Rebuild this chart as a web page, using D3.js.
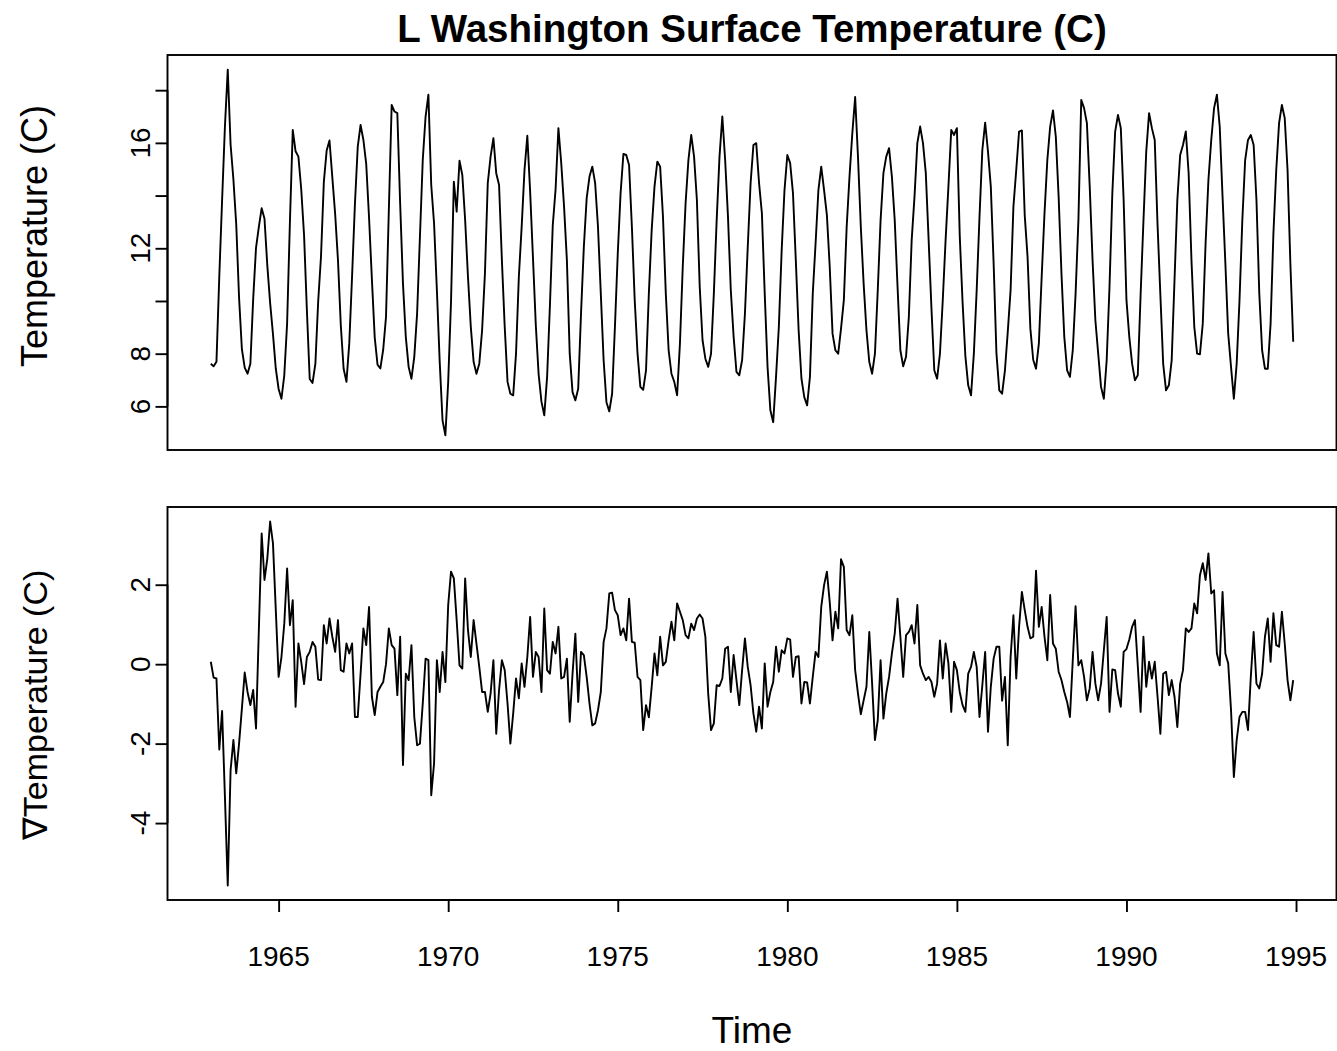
<!DOCTYPE html>
<html>
<head>
<meta charset="utf-8">
<script src="https://cdn.jsdelivr.net/npm/d3@7"></script>
<style>
  body { margin: 0; background: #fff; }
  svg { display: block; }
  text { font-family: "Liberation Sans", Arial, Helvetica, sans-serif; fill: #000; }
</style>
</head>
<body>
<svg id="chart" width="1337" height="1051"></svg>
<script>
// Monthly series, January 1963 – December 1994
const startYear = 1963;
const monthsPerYear = 12;

// Surface temperature (C), one row per year
const temperature = [
  7.62, 7.52, 7.69, 10.92, 13.83, 16.62, 18.78, 15.94, 14.61, 12.91, 10.13, 8.17,
  7.47, 7.24, 7.62, 10.08, 12.02, 12.81, 13.52, 13.12, 11.34, 9.92, 8.74, 7.43,
  6.66, 6.29, 7.18, 9.14, 13.02, 16.49, 15.68, 15.48, 14.24, 12.50, 9.65, 7.04,
  6.89, 7.61, 9.99, 11.70, 14.52, 15.71, 16.09, 14.69, 13.31, 11.55, 9.08, 7.43,
  6.93, 8.40, 10.97, 13.68, 15.86, 16.68, 16.11, 15.19, 13.15, 10.83, 8.62, 7.58,
  7.44, 8.15, 9.40, 13.45, 17.44, 17.19, 17.13, 13.71, 10.66, 8.64, 7.50, 7.05,
  7.88, 9.52, 12.44, 15.35, 17.00, 17.83, 14.40, 12.95, 10.41, 7.69, 5.47, 4.90,
  6.93, 9.97, 14.53, 13.39, 15.32, 14.78, 13.07, 10.92, 9.02, 7.69, 7.24, 7.62,
  8.89, 11.04, 14.47, 15.48, 16.18, 14.85, 14.40, 11.55, 9.02, 6.93, 6.48, 6.42,
  8.00, 10.92, 12.82, 14.97, 16.27, 14.14, 11.63, 9.08, 7.22, 6.18, 5.66, 7.12,
  9.84, 12.87, 14.24, 16.56, 15.23, 13.58, 11.55, 8.00, 6.54, 6.23, 6.67, 9.52,
  12.06, 13.90, 14.72, 15.10, 14.47, 12.82, 10.28, 7.75, 6.16, 5.81, 6.48, 9.02,
  11.80, 14.09, 15.58, 15.54, 15.16, 12.82, 10.03, 8.00, 6.74, 6.63, 7.37, 10.28,
  12.69, 14.34, 15.29, 15.10, 13.20, 10.28, 8.13, 7.24, 6.93, 6.42, 8.38, 11.30,
  13.71, 15.35, 16.30, 15.48, 13.83, 10.54, 8.51, 7.81, 7.50, 8.00, 10.28, 13.07,
  15.48, 17.00, 15.35, 13.20, 10.41, 8.64, 7.31, 7.18, 7.75, 9.52, 12.06, 14.47,
  15.92, 15.99, 14.47, 13.33, 10.28, 7.50, 5.85, 5.40, 7.12, 9.02, 11.93, 14.21,
  15.54, 15.23, 14.09, 11.55, 8.89, 7.05, 6.35, 6.04, 7.12, 10.28, 12.19, 14.21,
  15.10, 14.21, 13.26, 11.30, 8.76, 8.13, 8.00, 8.95, 10.03, 12.82, 14.72, 16.37,
  17.74, 15.48, 12.82, 10.66, 8.89, 7.69, 7.24, 8.00, 10.41, 13.07, 14.85, 15.48,
  15.80, 14.72, 13.07, 10.54, 8.13, 7.52, 7.88, 9.40, 12.31, 13.96, 15.99, 16.62,
  15.99, 14.85, 12.31, 9.71, 7.37, 7.05, 8.00, 10.03, 12.31, 14.34, 16.49, 16.30,
  16.56, 12.50, 9.97, 7.91, 6.80, 6.42, 8.00, 10.41, 13.20, 15.73, 16.77, 15.67,
  14.34, 11.42, 8.00, 6.61, 6.48, 7.37, 8.83, 10.41, 13.58, 14.97, 16.43, 16.47,
  13.26, 11.68, 8.95, 7.77, 7.43, 8.38, 10.92, 13.33, 15.35, 16.62, 17.23, 16.24,
  13.96, 11.04, 8.64, 7.37, 7.12, 8.13, 10.28, 13.07, 17.63, 17.32, 16.75, 14.34,
  11.55, 9.27, 8.00, 6.74, 6.29, 7.75, 10.54, 14.09, 16.43, 17.06, 16.56, 13.83,
  10.03, 8.64, 7.62, 6.99, 7.18, 10.22, 13.01, 15.67, 17.13, 16.56, 16.11, 12.89,
  10.23, 7.60, 6.61, 6.80, 7.75, 10.79, 13.83, 15.54, 15.92, 16.43, 14.85, 11.55,
  9.02, 8.00, 7.98, 9.14, 12.19, 14.59, 16.11, 17.32, 17.83, 16.62, 13.96, 11.42,
  8.76, 7.50, 6.29, 7.62, 10.03, 13.07, 15.35, 16.11, 16.30, 15.92, 13.83, 10.28,
  8.13, 7.43, 7.43, 9.14, 12.57, 14.97, 16.75, 17.44, 16.94, 14.97, 11.42, 8.45
];

// Differenced temperature (C), one row per year
const tempDiff = [
  0.06, -0.34, -0.36, -2.15, -1.18, -3.34, -5.57, -2.67, -1.91, -2.75, -2.00, -1.12,
  -0.21, -0.70, -1.03, -0.65, -1.62, 0.86, 3.29, 2.12, 2.66, 3.59, 3.04, 1.36,
  -0.32, 0.18, 1.02, 2.41, 0.98, 1.61, -1.07, 0.52, 0.06, -0.50, 0.18, 0.31,
  0.56, 0.44, -0.39, -0.40, 0.98, 0.52, 1.15, 0.69, 0.31, 1.11, -0.15, -0.19,
  0.52, 0.27, 0.52, -1.33, -1.33, -0.24, 0.90, 0.48, 1.44, -0.82, -1.28, -0.70,
  -0.57, -0.45, 0.00, 0.90, 0.48, 0.39, -0.78, 0.69, -2.54, -0.24, -0.40, 0.48,
  -1.33, -2.04, -2.00, -0.99, 0.14, 0.10, -3.30, -2.50, 0.10, -0.70, 0.31, -0.45,
  1.49, 2.33, 2.16, 1.11, -0.03, -0.11, 2.16, 0.86, 0.18, 1.11, 0.52, -0.07,
  -0.70, -0.70, -1.20, -0.74, 0.10, -1.75, -0.65, 0.10, -0.15, -0.99, -2.00, -1.24,
  -0.36, -0.86, 0.02, -0.57, 0.18, 1.19, -0.32, 0.31, 0.18, -0.70, 1.40, -0.15,
  -0.24, 0.56, 0.27, 0.94, -0.36, -0.32, 0.14, -1.45, -0.24, 0.77, -0.95, 0.31,
  0.23, -0.32, -0.99, -1.54, -1.49, -1.16, -0.70, 0.56, 0.90, 1.78, 1.80, 1.36,
  1.23, 0.73, 0.90, 0.60, 1.65, 0.56, 0.54, -0.32, -0.40, -1.66, -1.03, -1.34,
  -0.57, 0.27, -0.28, 0.69, -0.03, 0.06, 0.60, 1.07, 0.60, 1.53, 1.32, 1.11,
  0.73, 0.65, 1.02, 0.86, 1.15, 1.25, 1.15, 0.69, -0.74, -1.66, -1.49, -0.53,
  -0.55, -0.36, 0.39, 0.44, -0.70, 0.23, -0.40, -1.03, -0.15, 0.65, -0.07, -0.53,
  -1.24, -1.70, -1.07, -1.62, 0.02, -1.07, -0.70, -0.45, 0.44, -0.19, 0.35, 0.27,
  0.65, 0.62, -0.32, 0.18, 0.20, -0.99, -0.45, -0.46, -0.99, -0.32, 0.31, 0.18,
  1.44, 1.99, 2.33, 1.57, 0.60, 1.32, 0.90, 2.64, 2.45, 0.86, 0.73, 1.23,
  -0.15, -0.74, -1.26, -0.91, -0.57, 0.81, -0.49, -1.91, -1.41, 0.10, -1.37, -0.74,
  -0.32, 0.27, 0.77, 1.65, 0.69, -0.32, 0.73, 0.81, 0.98, 0.52, 1.49, -0.03,
  -0.24, -0.40, -0.32, -0.45, -0.82, -0.49, 0.60, -0.36, 0.52, 0.02, -1.20, 0.06,
  -0.15, -0.70, -1.03, -1.20, -0.24, -0.07, 0.31, -0.07, -1.33, -0.53, 0.31, -1.70,
  -0.57, 0.14, 0.44, 0.44, -0.92, -0.32, -2.04, 0.18, 1.23, -0.36, 0.94, 1.82,
  1.36, 0.94, 0.65, 0.69, 2.35, 0.94, 1.44, 0.69, 0.10, 1.74, 0.52, 0.39,
  -0.19, -0.40, -0.70, -0.95, -1.33, 0.10, 1.46, -0.03, 0.10, -0.32, -0.91, -0.61,
  0.31, -0.49, -0.91, -0.49, 0.35, 1.19, -1.20, -0.13, -0.15, -0.74, -1.07, 0.31,
  0.38, 0.62, 0.94, 1.11, -0.04, -1.20, 0.69, -0.57, 0.06, -0.36, 0.06, -0.82,
  -1.75, -0.24, -0.19, -0.78, -0.40, -0.82, -1.58, -0.49, -0.15, 0.90, 0.81, 0.90,
  1.53, 1.28, 2.24, 2.54, 2.12, 2.79, 1.78, 1.86, 0.27, -0.03, 1.82, 0.27,
  0.02, -1.16, -2.84, -1.91, -1.33, -1.20, -1.20, -1.66, -0.32, 0.81, -0.49, -0.61,
  -0.24, 0.69, 1.15, 0.06, 1.28, 0.48, 0.44, 1.32, 0.52, -0.40, -0.91, -0.40
];

// Axis ticks and the labels drawn beside them
const yearTicks = [1965, 1970, 1975, 1980, 1985, 1990, 1995];
const topTicks = [6, 8, 10, 12, 14, 16, 18];
const topTickLabels = [6, 8, 12, 16];
const bottomTicks = [-4, -2, 0, 2];
const bottomTickLabels = [-4, -2, 0, 2];

const titleText = "L Washington Surface Temperature (C)";
const topYTitle = "Temperature (C)";
const bottomYTitle = "\u2207Temperature (C)";
const xTitle = "Time";

// ---- layout ----
const svg = d3.select("#chart");
const plotLeft = 167.5, plotRight = 1336.5;
const topPanel = { top: 55, bottom: 450, titleY: 236, titleSize: 36 };
const bottomPanel = { top: 507, bottom: 900, titleY: 705, titleSize: 34 };
const tickLen = 12;
const tickFont = 28, labFont = 37, titleFont = 38.5;

// R-style 4% padding on each side of the data range
function padded(ext) {
  const d = (ext[1] - ext[0]) * 0.04;
  return [ext[0] - d, ext[1] + d];
}

const times = temperature.map((_, i) => startYear + i / monthsPerYear);
const x = d3.scaleLinear().domain(padded(d3.extent(times))).range([plotLeft, plotRight]);

function drawPanel(values, panel, ticks, tickLabels, yTitle) {
  const y = d3.scaleLinear().domain(padded(d3.extent(values))).range([panel.bottom, panel.top]);
  const g = svg.append("g");

  const line = d3.line()
    .x((d, i) => x(times[i]))
    .y(d => y(d));

  g.append("path")
    .datum(values)
    .attr("d", line)
    .attr("fill", "none")
    .attr("stroke", "#000")
    .attr("stroke-width", 1.9)
    .attr("stroke-linejoin", "round");

  // frame
  g.append("rect")
    .attr("x", plotLeft).attr("y", panel.top)
    .attr("width", plotRight - plotLeft).attr("height", panel.bottom - panel.top)
    .attr("fill", "none").attr("stroke", "#000").attr("stroke-width", 1.9);

  // left axis: ticks, with rotated labels
  const axis = d3.axisLeft(y).tickValues(ticks).tickSize(tickLen).tickFormat("");
  const ag = g.append("g").attr("transform", `translate(${plotLeft},0)`).call(axis);
  ag.select(".domain")
    .attr("d", `M0,${y(d3.min(ticks))}V${y(d3.max(ticks))}`)
    .attr("stroke-width", 1.9);
  ag.selectAll(".tick line").attr("stroke-width", 1.9);

  g.selectAll(".ylab")
    .data(tickLabels)
    .join("text")
    .attr("class", "ylab")
    .attr("transform", d => `translate(${plotLeft - 18},${y(d)}) rotate(-90)`)
    .attr("text-anchor", "middle")
    .attr("font-size", tickFont)
    .text(d => d);

  svg.append("text")
    .attr("transform", `translate(47,${panel.titleY}) rotate(-90)`)
    .attr("text-anchor", "middle")
    .attr("font-size", panel.titleSize)
    .text(yTitle);

  return y;
}

drawPanel(temperature, topPanel, topTicks, topTickLabels, topYTitle);
drawPanel(tempDiff, bottomPanel, bottomTicks, bottomTickLabels, bottomYTitle);

// bottom time axis
const xAxis = d3.axisBottom(x).tickValues(yearTicks).tickSize(tickLen).tickFormat("");
const xg = svg.append("g").attr("transform", `translate(0,${bottomPanel.bottom})`).call(xAxis);
xg.select(".domain")
  .attr("d", `M${x(d3.min(yearTicks))},0H${x(d3.max(yearTicks))}`)
  .attr("stroke-width", 1.9);
xg.selectAll(".tick line").attr("stroke-width", 1.9);

svg.selectAll(".xlab")
  .data(yearTicks)
  .join("text")
  .attr("class", "xlab")
  .attr("x", d => x(d))
  .attr("y", bottomPanel.bottom + 66)
  .attr("text-anchor", "middle")
  .attr("font-size", tickFont)
  .text(d => d);

svg.append("text")
  .attr("x", (plotLeft + plotRight) / 2)
  .attr("y", 1043)
  .attr("text-anchor", "middle")
  .attr("font-size", labFont)
  .text(xTitle);

svg.append("text")
  .attr("x", (plotLeft + plotRight) / 2)
  .attr("y", 42)
  .attr("text-anchor", "middle")
  .attr("font-size", titleFont)
  .attr("font-weight", "bold")
  .text(titleText);
</script>
</body>
</html>
